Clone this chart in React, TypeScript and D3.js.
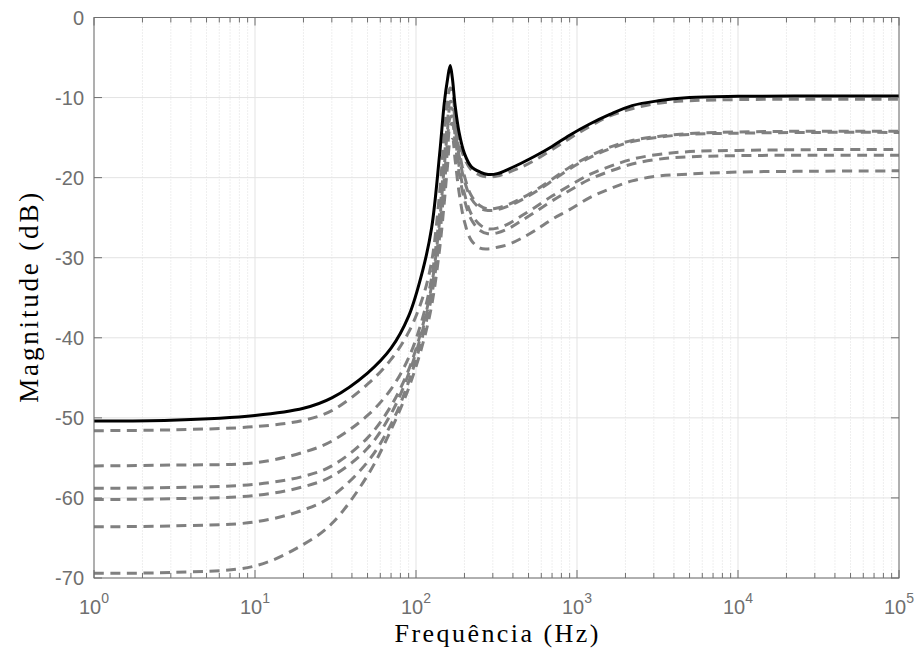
import * as d3 from "d3";
import { useRef, useEffect } from "react";

// frequency samples (Hz) shared by every curve
const freqs = [1, 3, 10, 20, 30, 50, 70, 90, 110, 125, 140, 150, 157, 163, 168, 175, 185, 200, 220, 250, 280, 320, 380, 450, 550, 700, 900, 1200, 1600, 2200, 3200, 5000, 10000, 30000, 100000];

// nominal response (solid black)
const nominal = [-50.4, -50.3, -49.7, -48.8, -47.5, -44.4, -41.3, -37.3, -31.6, -26.3, -17.2, -10.6, -7.7, -6.0, -7.5, -11.0, -14.3, -17.0, -18.6, -19.3, -19.6, -19.5, -18.9, -18.2, -17.3, -16.1, -14.7, -13.3, -12.1, -11.0, -10.4, -10.0, -9.85, -9.8, -9.8];

// parameter variations (gray dashed)
const varA = [-51.6, -51.5, -51.1, -50.3, -49.1, -45.8, -42.7, -39.3, -35.0, -30.5, -22.0, -14.5, -10.5, -8.8, -9.2, -12.2, -15.4, -17.6, -19.0, -19.7, -19.9, -19.8, -19.3, -18.7, -17.8, -16.5, -15.1, -13.6, -12.3, -11.4, -10.7, -10.4, -10.25, -10.2, -10.2];
const varB = [-56.0, -55.9, -55.6, -54.3, -52.9, -49.7, -46.4, -42.5, -37.5, -32.5, -24.5, -17.5, -13.0, -10.5, -10.6, -13.0, -16.5, -19.8, -22.2, -23.5, -23.9, -23.8, -23.3, -22.6, -21.6, -20.2, -18.7, -17.3, -16.2, -15.35, -14.85, -14.5, -14.3, -14.2, -14.2];
const varC = [-58.8, -58.7, -58.3, -57.3, -56.0, -52.5, -48.5, -44.0, -38.5, -33.5, -25.5, -18.5, -14.0, -11.3, -11.4, -13.8, -17.2, -20.4, -22.6, -23.8, -24.1, -24.0, -23.5, -22.8, -21.8, -20.4, -18.9, -17.5, -16.4, -15.5, -14.95, -14.6, -14.45, -14.35, -14.35];
const varD = [-60.2, -60.1, -59.7, -58.6, -57.3, -53.8, -49.5, -44.5, -39.0, -34.0, -26.5, -20.0, -15.5, -12.5, -12.3, -14.8, -18.5, -22.0, -24.5, -25.9, -26.4, -26.3, -25.7, -24.8, -23.7, -22.3, -21.0, -19.6, -18.6, -17.7, -17.1, -16.75, -16.6, -16.5, -16.5];
const varE = [-63.6, -63.5, -63.0, -61.5, -59.8, -55.5, -50.8, -45.5, -39.8, -34.8, -27.5, -21.0, -16.5, -13.5, -13.2, -15.6, -19.3, -22.8, -25.2, -26.6, -27.0, -26.9, -26.3, -25.4, -24.3, -22.9, -21.6, -20.2, -19.2, -18.3, -17.7, -17.4, -17.25, -17.2, -17.2];
const varF = [-69.4, -69.3, -68.5, -65.8, -63.2, -57.2, -51.5, -46.3, -40.8, -36.0, -29.0, -23.0, -18.5, -15.5, -15.2, -17.8, -21.8, -25.5, -27.8, -28.8, -28.9, -28.7, -28.3, -27.6, -26.6, -25.2, -24.0, -22.5, -21.4, -20.4, -19.8, -19.55, -19.3, -19.2, -19.15];

const variations = [varA, varB, varC, varD, varE, varF];

const yTicks = [0, -10, -20, -30, -40, -50, -60, -70];
const xDecades = [0, 1, 2, 3, 4, 5];

export default function App() {
    const svgRef = useRef<SVGSVGElement>(null);

    useEffect(() => {
        const svg = d3.select(svgRef.current);
        svg.selectAll("*").remove();

        const left = 94, right = 899, top = 17.5, bottom = 578;
        const x = d3.scaleLog().domain([1, 1e5]).range([left, right]);
        const y = d3.scaleLinear().domain([-70, 0]).range([bottom, top]);

        const axisColor = "#6f6f6f";
        const tickFont = "'Liberation Sans', Arial, Helvetica, sans-serif";

        svg.append("rect").attr("x", left).attr("y", top).attr("width", right - left).attr("height", bottom - top).attr("fill", "#fff");

        // minor grid (x only, dotted)
        const minor: number[] = [];
        for (let e = 0; e < 5; e++) for (let k = 2; k <= 9; k++) minor.push(k * Math.pow(10, e));
        svg.append("g").selectAll("line").data(minor).enter().append("line")
            .attr("x1", d => x(d)).attr("x2", d => x(d)).attr("y1", top).attr("y2", bottom)
            .attr("stroke", "#d6d6d6").attr("stroke-width", 0.8).attr("stroke-dasharray", "1,2");

        // major grid
        svg.append("g").selectAll("line").data(xDecades).enter().append("line")
            .attr("x1", d => x(Math.pow(10, d))).attr("x2", d => x(Math.pow(10, d))).attr("y1", top).attr("y2", bottom)
            .attr("stroke", "#e3e3e3").attr("stroke-width", 1);
        svg.append("g").selectAll("line").data(yTicks).enter().append("line")
            .attr("x1", left).attr("x2", right).attr("y1", d => y(d)).attr("y2", d => y(d))
            .attr("stroke", "#e3e3e3").attr("stroke-width", 1);

        // curves
        svg.append("clipPath").attr("id", "plotClip").append("rect")
            .attr("x", left).attr("y", top).attr("width", right - left).attr("height", bottom - top);
        const line = d3.line<number>()
            .x((_, i) => x(freqs[i]))
            .y(d => y(d))
            .curve(d3.curveCatmullRom.alpha(0.5));
        const curves = svg.append("g").attr("clip-path", "url(#plotClip)");
        variations.forEach(v => {
            curves.append("path").attr("d", line(v)).attr("fill", "none")
                .attr("stroke", "#808080").attr("stroke-width", 3).attr("stroke-dasharray", "10,6.5");
        });
        curves.append("path").attr("d", line(nominal)).attr("fill", "none")
            .attr("stroke", "#000").attr("stroke-width", 3);

        // box
        svg.append("rect").attr("x", left).attr("y", top).attr("width", right - left).attr("height", bottom - top)
            .attr("fill", "none").attr("stroke", axisColor).attr("stroke-width", 1);

        // ticks
        const ticks = svg.append("g").attr("stroke", axisColor).attr("stroke-width", 1);
        xDecades.forEach(d => {
            const px = x(Math.pow(10, d));
            ticks.append("line").attr("x1", px).attr("x2", px).attr("y1", bottom).attr("y2", bottom - 8);
            ticks.append("line").attr("x1", px).attr("x2", px).attr("y1", top).attr("y2", top + 8);
        });
        minor.forEach(m => {
            const px = x(m);
            ticks.append("line").attr("x1", px).attr("x2", px).attr("y1", bottom).attr("y2", bottom - 5);
            ticks.append("line").attr("x1", px).attr("x2", px).attr("y1", top).attr("y2", top + 5);
        });
        yTicks.forEach(t => {
            ticks.append("line").attr("x1", left).attr("x2", left + 8).attr("y1", y(t)).attr("y2", y(t));
            ticks.append("line").attr("x1", right).attr("x2", right - 8).attr("y1", y(t)).attr("y2", y(t));
        });

        // tick labels
        svg.append("g").selectAll("text").data(yTicks).enter().append("text")
            .attr("x", left - 10).attr("y", d => y(d)).attr("dy", "0.36em")
            .attr("text-anchor", "end").attr("fill", axisColor)
            .style("font-family", tickFont).style("font-size", "20px")
            .text(d => String(d));

        xDecades.forEach(d => {
            const t = svg.append("text").attr("x", x(Math.pow(10, d))).attr("y", 614)
                .attr("text-anchor", "middle").attr("fill", axisColor)
                .style("font-family", tickFont).style("font-size", "20px");
            t.append("tspan").text("10");
            t.append("tspan").attr("dy", -11).style("font-size", "14px").text(String(d));
        });

        // axis labels
        svg.append("text").attr("x", (left + right) / 2).attr("y", 642)
            .attr("text-anchor", "middle").attr("fill", "#000")
            .attr("textLength", 204).attr("lengthAdjust", "spacing")
            .style("font-family", "'Liberation Serif', 'Times New Roman', serif").style("font-size", "26px")
            .text("Frequência (Hz)");
        svg.append("text").attr("transform", `translate(38,${(top + bottom) / 2}) rotate(-90)`)
            .attr("text-anchor", "middle").attr("fill", "#000")
            .attr("textLength", 210).attr("lengthAdjust", "spacing")
            .style("font-family", "'Liberation Serif', 'Times New Roman', serif").style("font-size", "27px")
            .text("Magnitude (dB)");
    }, []);

    return (
        <svg ref={svgRef} width={919} height={653} style={{ position: "absolute", left: 0, top: 0, background: "#fff" }} />
    );
}
